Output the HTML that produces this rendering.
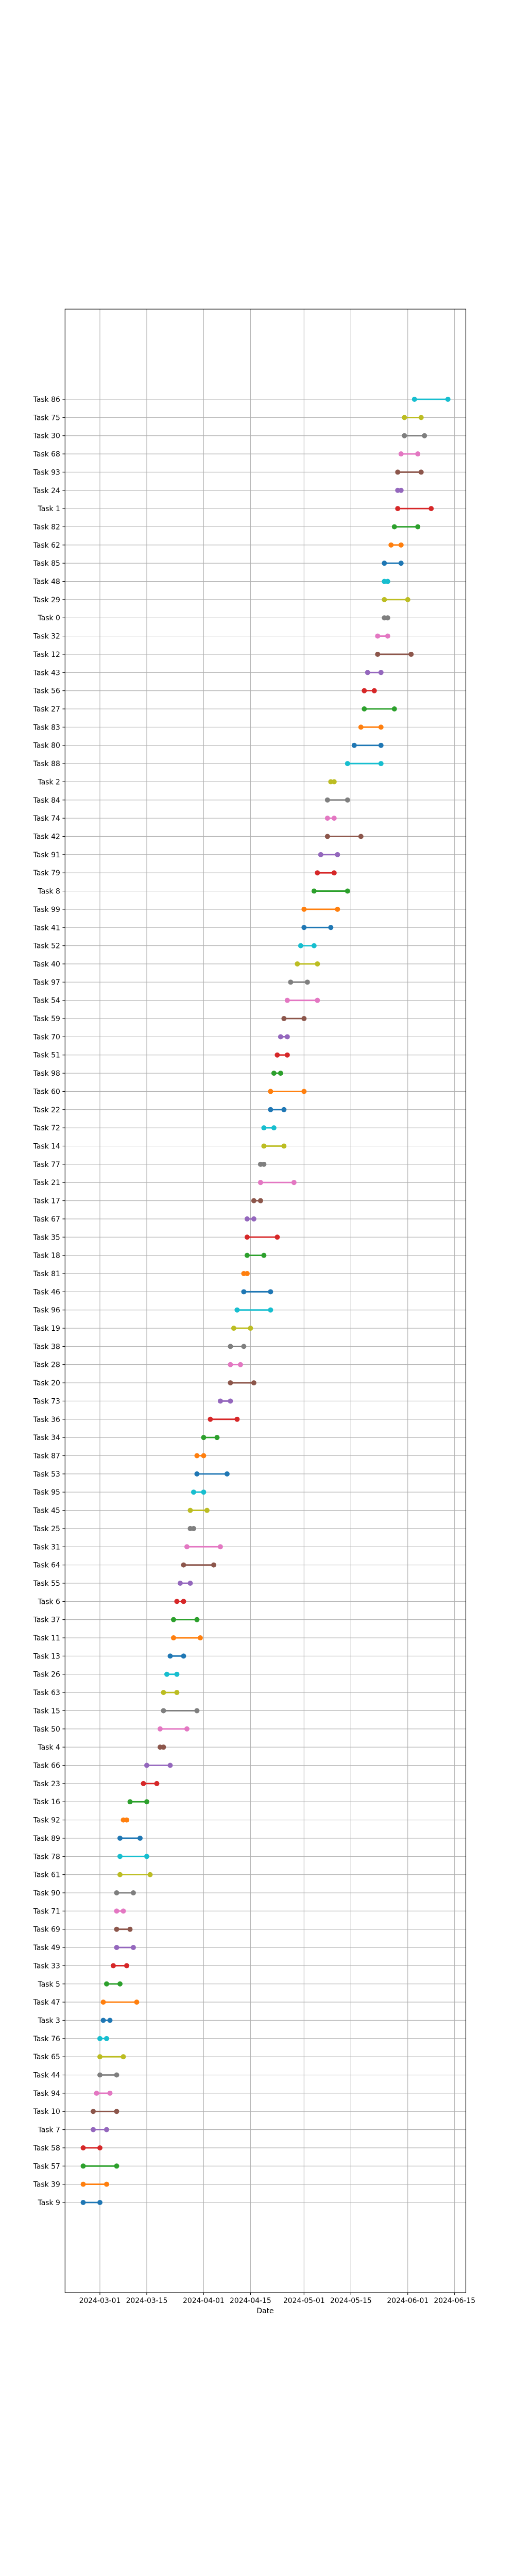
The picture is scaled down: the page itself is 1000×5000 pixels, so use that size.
<!DOCTYPE html>
<html>
<head>
<meta charset="utf-8">
<style>
html,body{margin:0;padding:0;background:#fff;}
svg{display:block;font-family:"DejaVu Sans","Liberation Sans",sans-serif;}
</style>
</head>
<body>
<svg id="chart" width="1000" height="5000" viewBox="0 0 1000 5000" xmlns="http://www.w3.org/2000/svg">
<rect width="1000" height="5000" fill="#fff"/>
<g id="grid"></g>
<g id="marks"></g>
<g id="axes"></g>
<text x="515" y="4490" text-anchor="middle" font-size="13.9" fill="#000">Date</text>
</svg>
<script>
const taskLabels = ["Task 9","Task 39","Task 57","Task 58","Task 7","Task 10","Task 94","Task 44","Task 65","Task 76","Task 3","Task 47","Task 5","Task 33","Task 49","Task 69","Task 71","Task 90","Task 61","Task 78","Task 89","Task 92","Task 16","Task 23","Task 66","Task 4","Task 50","Task 15","Task 63","Task 26","Task 13","Task 11","Task 37","Task 6","Task 55","Task 64","Task 31","Task 25","Task 45","Task 95","Task 53","Task 87","Task 34","Task 36","Task 73","Task 20","Task 28","Task 38","Task 19","Task 96","Task 46","Task 81","Task 18","Task 35","Task 67","Task 17","Task 21","Task 77","Task 14","Task 72","Task 22","Task 60","Task 98","Task 51","Task 70","Task 59","Task 54","Task 97","Task 40","Task 52","Task 41","Task 99","Task 8","Task 79","Task 91","Task 42","Task 74","Task 84","Task 2","Task 88","Task 80","Task 83","Task 27","Task 56","Task 43","Task 12","Task 32","Task 0","Task 29","Task 48","Task 85","Task 62","Task 82","Task 1","Task 24","Task 93","Task 68","Task 30","Task 75","Task 86"];
// day offsets from 2024-03-01
const startDays = [-5,-5,-5,-5,-2,-2,-1,0,0,0,1,1,2,4,5,5,5,5,6,6,6,7,9,13,14,18,18,19,19,20,21,22,22,23,24,25,26,27,27,28,29,29,31,33,36,39,39,39,40,41,43,43,44,44,44,46,48,48,49,49,51,51,52,53,54,55,56,57,59,60,61,61,64,65,66,68,68,68,69,74,76,78,79,79,80,83,83,85,85,85,85,87,88,89,89,89,90,91,91,94];
const endDays = [0,2,5,0,2,5,3,5,7,2,3,11,6,8,10,9,7,10,15,14,12,8,14,17,21,19,26,29,23,23,25,30,29,25,27,34,36,28,32,31,38,31,35,41,39,46,42,43,45,51,51,44,49,53,46,48,58,49,55,52,55,61,54,56,56,61,65,62,65,64,69,71,74,70,71,78,70,74,70,84,84,84,88,82,84,93,86,86,92,86,90,90,95,99,90,96,95,97,96,104];
const tickDays = [0,14,31,45,61,75,92,106];
const tickLabels = ["2024-03-01","2024-03-15","2024-04-01","2024-04-15","2024-05-01","2024-05-15","2024-06-01","2024-06-15"];
const palette = ["#1f77b4","#ff7f0e","#2ca02c","#d62728","#9467bd","#8c564b","#e377c2","#7f7f7f","#bcbd22","#17becf"];

const NS = "http://www.w3.org/2000/svg";
const L = 126.3, R = 904.5, T = 600, B = 4450;
const xDomain = [-10.42, 109.35];
const yDomain = [-4.95, 103.95];
function xScale(d){ return L + (d - xDomain[0]) / (xDomain[1] - xDomain[0]) * (R - L); }
function yScale(i){ return B - (i - yDomain[0]) / (yDomain[1] - yDomain[0]) * (B - T); }
function mk(tag, attrs, parent){ const e = document.createElementNS(NS, tag); for (const k in attrs) e.setAttribute(k, attrs[k]); parent.appendChild(e); return e; }

const grid = document.getElementById('grid');
const marks = document.getElementById('marks');
const axes = document.getElementById('axes');

tickDays.forEach((d, k) => {
  const x = xScale(d);
  const g = mk('line', {x1:x, x2:x, y1:T, y2:B, stroke:'#b0b0b0', 'stroke-width':1.1}, grid);
  
  
  const t = mk('line', {x1:x, x2:x, y1:B, y2:B+4.9, stroke:'#000', 'stroke-width':1.1}, axes);
  
  
  const lbl = mk('text', {x:x, y:B+20, 'text-anchor':'middle', 'font-size':13.9, fill:'#000'}, axes);
  lbl.textContent = tickLabels[k];
  
  
});

taskLabels.forEach((name, i) => {
  const y = yScale(i);
  const g = mk('line', {x1:L, x2:R, y1:y, y2:y, stroke:'#b0b0b0', 'stroke-width':1.1}, grid);
  
  
  const t = mk('line', {x1:L-4.9, x2:L, y1:y, y2:y, stroke:'#000', 'stroke-width':1.1}, axes);
  
  
  const lbl = mk('text', {x:L-9.5, y:y+5, 'text-anchor':'end', 'font-size':13.9, fill:'#000'}, axes);
  lbl.textContent = name;
  
  

  const c = palette[i % 10];
  const x1 = xScale(startDays[i]), x2 = xScale(endDays[i]);
  const grp = mk('g', {}, marks);
  
  
  mk('line', {x1:x1, x2:x2, y1:y, y2:y, stroke:c, 'stroke-width':2.8}, grp);
  const s = mk('circle', {cx:x1, cy:y, r:5, fill:c}, grp);
  
  
  const e = mk('circle', {cx:x2, cy:y, r:5, fill:c}, grp);
  
  
});

const frame = mk('rect', {x:L, y:T, width:R-L, height:B-T, fill:'none', stroke:'#000', 'stroke-width':1.1}, axes);


</script>
</body>
</html>
